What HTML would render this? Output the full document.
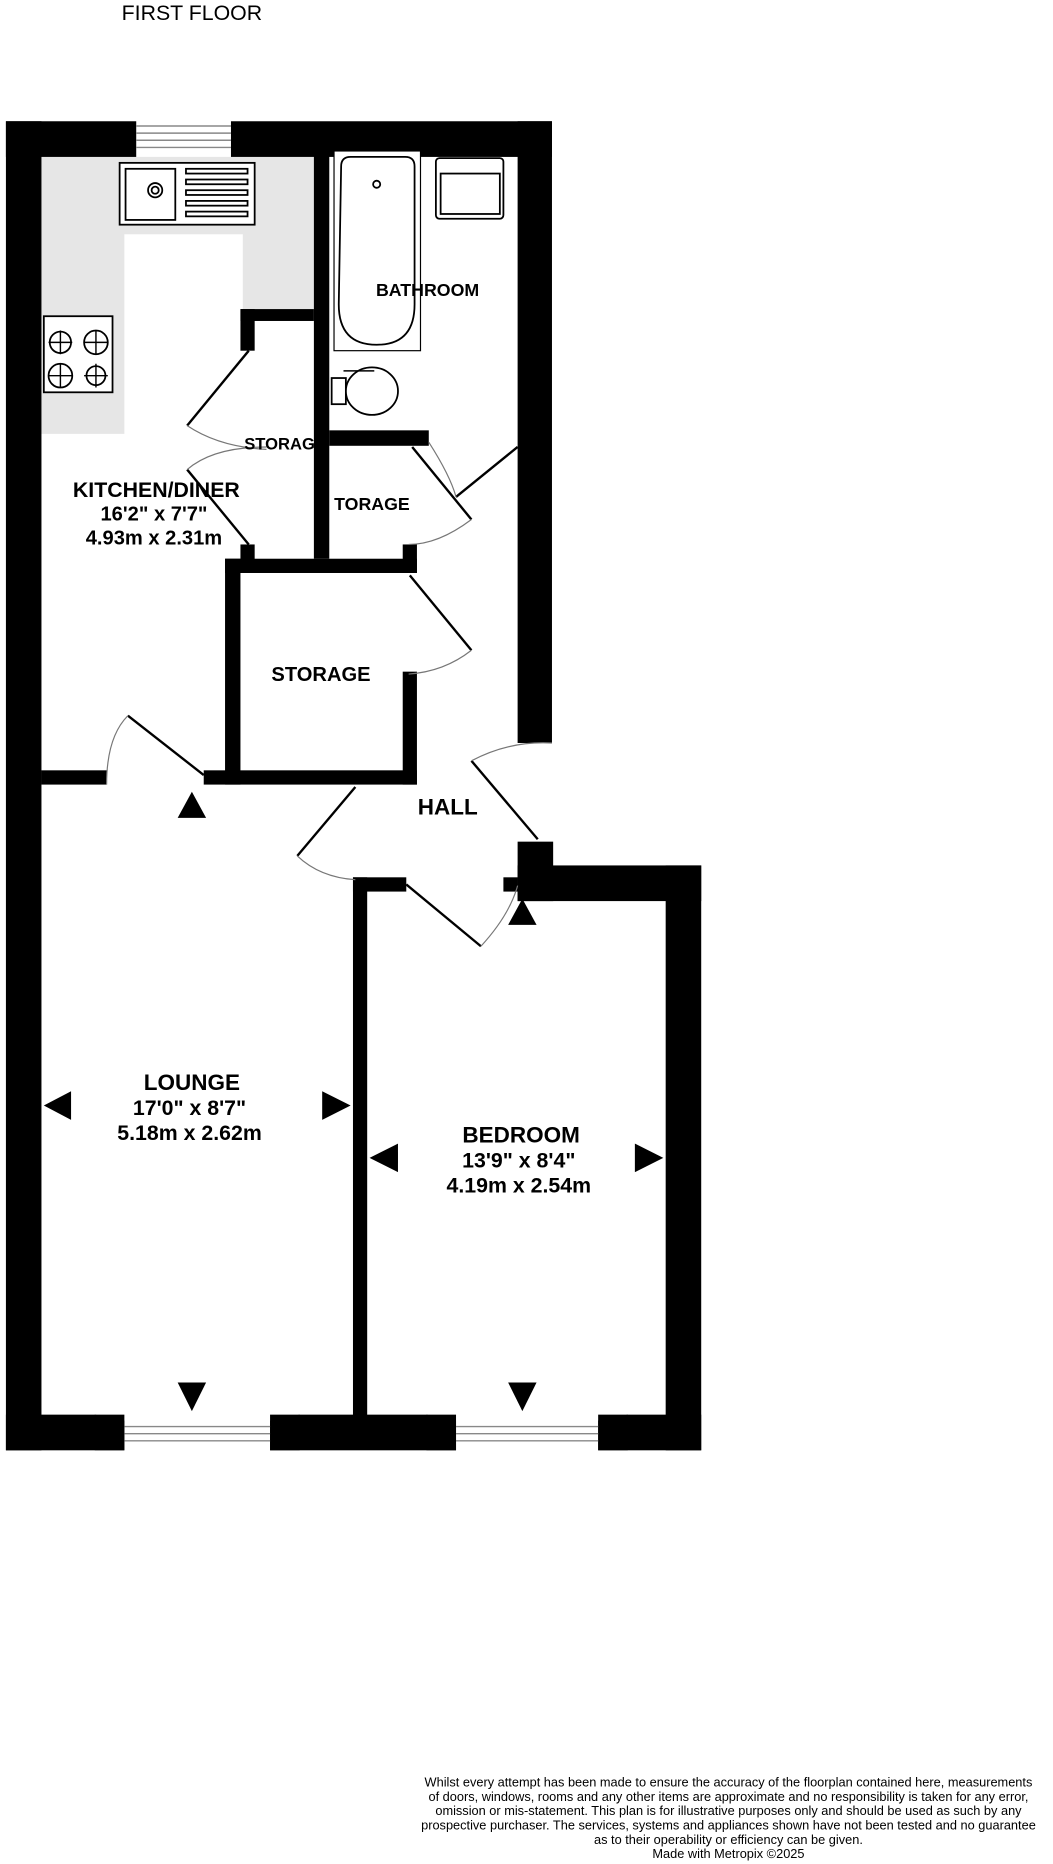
<!DOCTYPE html>
<html><head><meta charset="utf-8"><style>
html,body{margin:0;padding:0;background:#fff;width:1053px;height:1864px;overflow:hidden}
svg{display:block}
text{font-family:"Liberation Sans",sans-serif;fill:#000}
</style></head><body>
<svg width="1053" height="1864" viewBox="0 0 889 1568" preserveAspectRatio="none">
<rect width="889" height="1568" fill="#fff"/>
<text x="162" y="17" font-size="18" text-anchor="middle">FIRST FLOOR</text>
<path d="M35 132H265V260H205V197H105V365H35Z" fill="#e6e6e6"/>
<g fill="#000">
<rect x="5" y="102" width="30" height="1118"/>
<rect x="5" y="102" width="110" height="30"/>
<rect x="195" y="102" width="271" height="30"/>
<rect x="437" y="102" width="29" height="523"/>
<rect x="265" y="120" width="13" height="350"/>
<rect x="203" y="260" width="62" height="10"/>
<rect x="203" y="260" width="12" height="35"/>
<rect x="203" y="458" width="12" height="14"/>
<rect x="190" y="470" width="162" height="12"/>
<rect x="340" y="458" width="12" height="24"/>
<rect x="278" y="362" width="84" height="13"/>
<rect x="190" y="470" width="13" height="190"/>
<rect x="172" y="648" width="180" height="12"/>
<rect x="340" y="565" width="12" height="95"/>
<rect x="35" y="648" width="55" height="12"/>
<rect x="437" y="708" width="30" height="50"/>
<rect x="437" y="728" width="155" height="30"/>
<rect x="562" y="728" width="30" height="492"/>
<rect x="298" y="738" width="12" height="480"/>
<rect x="298" y="738" width="45" height="12"/>
<rect x="425" y="738" width="12" height="12"/>
<rect x="5" y="1190" width="100" height="30"/>
<rect x="228" y="1190" width="157" height="30"/>
<rect x="505" y="1190" width="87" height="30"/>
<path d="M80 1190L105 1195V1220H80Z"/><path d="M253 1190L228 1195V1220H253Z"/>
<path d="M360 1190L385 1195V1220H360Z"/><path d="M530 1190L505 1195V1220H530Z"/>
<path d="M162 666L150 688H174Z"/>
<path d="M441 756L429 778H453Z"/>
<path d="M37 930L60 918V942Z"/><path d="M296 930L272 918V942Z"/>
<path d="M312 974L336 962V986Z"/><path d="M560 974L536 962V986Z"/>
<path d="M150 1163H174L162 1187Z"/><path d="M429 1163H453L441 1187Z"/>
</g>
<g stroke="#888" stroke-width="1.2">
<line x1="115" y1="106" x2="195" y2="106"/><line x1="115" y1="112" x2="195" y2="112"/><line x1="115" y1="118" x2="195" y2="118"/><line x1="115" y1="124" x2="195" y2="124"/>
<line x1="105" y1="1200" x2="228" y2="1200"/><line x1="105" y1="1206" x2="228" y2="1206"/><line x1="105" y1="1212" x2="228" y2="1212"/>
<line x1="385" y1="1200" x2="505" y2="1200"/><line x1="385" y1="1206" x2="505" y2="1206"/><line x1="385" y1="1212" x2="505" y2="1212"/>
</g>
<g fill="#fff" stroke="#000" stroke-width="1.5">
<rect x="101" y="137" width="114" height="52"/>
<rect x="106" y="142" width="42" height="43"/>
<circle cx="131" cy="160" r="6"/><circle cx="131" cy="160" r="3"/>
<rect x="157" y="142" width="52" height="4"/><rect x="157" y="151" width="52" height="4"/><rect x="157" y="160" width="52" height="4"/><rect x="157" y="169" width="52" height="4"/><rect x="157" y="178" width="52" height="4"/>
<rect x="37" y="266" width="58" height="64"/>
<circle cx="51" cy="288" r="9"/><circle cx="81" cy="288" r="10"/><circle cx="51" cy="316" r="10"/><circle cx="81" cy="316" r="8"/>
<rect x="282" y="127" width="73" height="168" stroke-width="1"/>
<path d="M288 140Q288 132 296 132H342Q350 132 350 140V256Q350 290 318 290Q286 290 286 256Z"/>
<circle cx="318" cy="155" r="3"/>
<rect x="368" y="133" width="57" height="51" rx="3"/>
<rect x="372" y="146" width="50" height="34"/>
<rect x="280" y="318" width="12" height="22"/>
<ellipse cx="314" cy="329" rx="22" ry="20"/>
</g>
<g stroke="#000" stroke-width="1.2" fill="none">
<path d="M290 312H316"/>
<path d="M51 278V298M41 288H61M81 278V298M71 288H91M51 306V326M41 316H61M81 306V326M71 316H91"/>
</g>
<g stroke="#000" stroke-width="2" fill="none">
<line x1="210" y1="295" x2="158" y2="358"/>
<line x1="210" y1="458" x2="158" y2="395"/>
<line x1="348" y1="376" x2="398" y2="437"/>
<line x1="437" y1="376" x2="385" y2="418"/>
<line x1="346" y1="484" x2="398" y2="547"/>
<line x1="108" y1="602" x2="172" y2="652"/>
<line x1="300" y1="662" x2="251" y2="720"/>
<line x1="398" y1="640" x2="454" y2="706"/>
<line x1="343" y1="744" x2="406" y2="796"/>
</g>
<g stroke="#777" stroke-width="1" fill="none">
<path d="M158 358Q185 376 225 378"/><path d="M158 395Q180 376 225 376"/>
<path d="M362 372Q380 400 385 418"/><path d="M398 437Q370 458 345 458"/>
<path d="M398 547Q375 565 345 567"/>
<path d="M108 602Q90 620 90 660"/>
<path d="M251 720Q270 738 300 740"/>
<path d="M398 640Q430 623 466 625"/>
<path d="M406 796Q430 770 437 745"/>
</g>
<g font-weight="bold" text-anchor="middle">
<text x="361" y="249" font-size="15">BATHROOM</text>
<text x="236" y="378" font-size="14">STORAG</text>
<text x="314" y="429" font-size="15">TORAGE</text>
<text x="132" y="418" font-size="18">KITCHEN/DINER</text>
<text x="130" y="438" font-size="17">16'2"  x 7'7"</text>
<text x="130" y="458" font-size="17">4.93m  x 2.31m</text>
<text x="271" y="573" font-size="17">STORAGE</text>
<text x="378" y="685" font-size="19">HALL</text>
<text x="162" y="917" font-size="19">LOUNGE</text>
<text x="160" y="938" font-size="18">17'0"  x 8'7"</text>
<text x="160" y="959" font-size="18">5.18m  x 2.62m</text>
<text x="440" y="961" font-size="19">BEDROOM</text>
<text x="438" y="982" font-size="18">13'9"  x 8'4"</text>
<text x="438" y="1003" font-size="18">4.19m  x 2.54m</text>
</g>
<g font-size="10.8" text-anchor="middle">
<text x="615" y="1503">Whilst every attempt has been made to ensure the accuracy of the floorplan contained here, measurements</text>
<text x="615" y="1515">of doors, windows, rooms and any other items are approximate and no responsibility is taken for any error,</text>
<text x="615" y="1527">omission or mis-statement. This plan is for illustrative purposes only and should be used as such by any</text>
<text x="615" y="1539">prospective purchaser. The services, systems and appliances shown have not been tested and no guarantee</text>
<text x="615" y="1551">as to their operability or efficiency can be given.</text>
<text x="615" y="1563">Made with Metropix ©2025</text>
</g>
</svg>
</body></html>
